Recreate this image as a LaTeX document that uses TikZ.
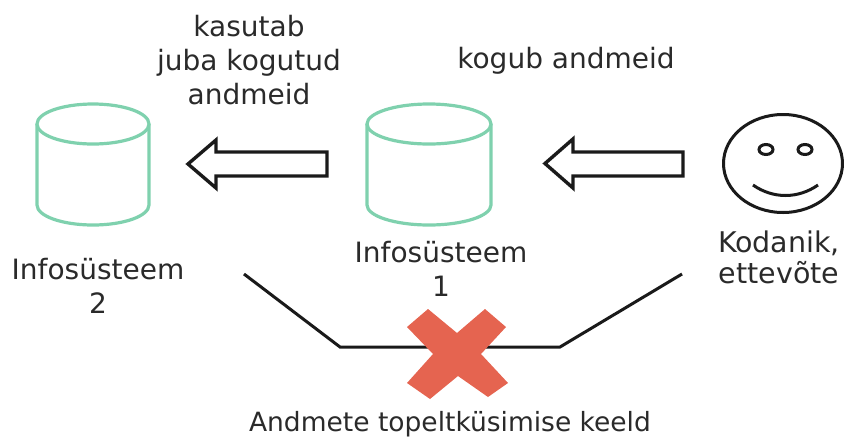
\documentclass[tikz,border=0pt]{standalone}
\usepackage{fontspec}
\setmainfont{DejaVu Sans}
\usetikzlibrary{shapes.geometric}
\definecolor{cylgreen}{HTML}{7FD1AE}
\definecolor{crossred}{HTML}{E56450}
\definecolor{inkc}{HTML}{1A1A1A}
\definecolor{textc}{HTML}{2A2A2A}
\tikzset{
  lbl/.style={align=center,text=textc,font=\fontsize{28}{34}\selectfont,inner sep=0pt},
  lbltight/.style={lbl,font=\fontsize{28.5}{31}\selectfont},
  cyl/.style={draw=cylgreen,line width=3.2pt,fill=white},
  blockarrow/.style={draw=inkc,line width=3.4pt,fill=white,line join=miter},
  thinline/.style={draw=inkc,line width=3pt,line join=miter},
  faceline/.style={ellipse,draw=inkc,line width=3pt,inner sep=0pt},
}
\newcommand{\cylinderat}[4]{% cx, rx, top y, bottom y
  \draw[cyl] (#1-#2,#3+20) -- (#1-#2,#4-20) arc[start angle=180,end angle=360,x radius=#2,y radius=-20] -- (#1+#2,#3+20);
  \draw[cyl] (#1,#3+20) ellipse[x radius=#2,y radius=20];
}
\begin{document}
\begin{tikzpicture}[x=1pt,y=-1pt]
\useasboundingbox (0,0) rectangle (844,437);
% cylinders
\cylinderat{93}{56}{104}{225}
\cylinderat{429}{62}{104}{225}
% block arrows
\draw[blockarrow] (327,152) -- (216,152) -- (216,140) -- (188,164) -- (216,188) -- (216,176) -- (327,176) -- cycle;
\draw[blockarrow] (683,152) -- (573,152) -- (573,139) -- (545,163.5) -- (573,188) -- (573,176) -- (683,176) -- cycle;
% face
\node[faceline,minimum width=119pt,minimum height=98pt] (face) at (783,163.5) {};
\node[faceline,minimum width=14pt,minimum height=10pt] (eyeL) at (766,149.5) {};
\node[faceline,minimum width=14pt,minimum height=10pt] (eyeR) at (805,149.5) {};
\coordinate (smileL) at (753,185);
\coordinate (smileR) at (818,185);
\draw[thinline] (smileL) .. controls (773,199) and (798,199) .. (smileR);
% connector
\coordinate (lineA) at (244,274);
\coordinate (lineB) at (340,347);
\coordinate (lineC) at (560,347);
\coordinate (lineD) at (682,274);
\draw[thinline] (lineA) -- (lineB) -- (lineC) -- (lineD);
% cross
\fill[crossred] (428,309) -- (457,333) -- (485,309) -- (506,327) -- (481,354) -- (508,383) -- (488,397) -- (458,376) -- (430,399) -- (407,383) -- (433,354) -- (407,327) -- cycle;
% labels
\node[lbl] (t1) at (249,60) {kasutab\\juba kogutud\\andmeid};
\node[lbl] (t2) at (566,61) {kogub andmeid};
\node[lbl] (t3) at (98,286) {Infosüsteem\\2};
\node[lbl] (t4) at (441,269) {Infosüsteem\\1};
\node[lbltight] (t5) at (779,257) {Kodanik,\\ettevõte};
\node[lbl,font=\fontsize{26.5}{32}\selectfont] (t6) at (450,424) {Andmete topeltküsimise keeld};
\end{tikzpicture}
\end{document}
